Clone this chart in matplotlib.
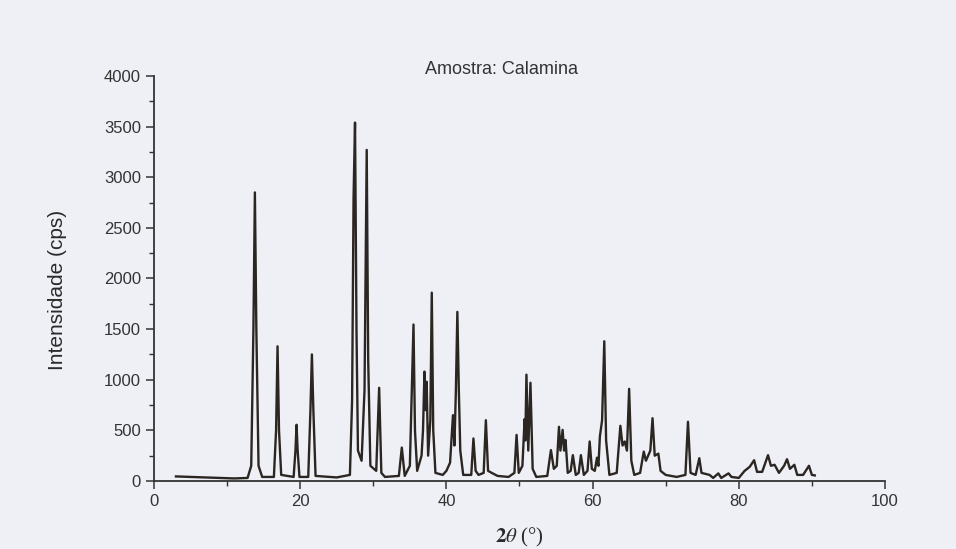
import matplotlib.pyplot as plt
import numpy as np

plt.rcParams['mathtext.fontset'] = 'stix'

# Difratograma - Amostra: Calamina
# pontos: 2theta (graus) e intensidade (cps)

theta = [
    3.0, 5.0, 7.0, 9.0, 11.0, 12.8,
    13.3, 13.6, 13.8, 14.0, 14.3, 14.8,
    16.4, 16.7, 16.9, 17.1, 17.4,
    19.1, 19.35, 19.5, 19.65, 19.9,
    21.1, 21.4, 21.6, 21.8, 22.1,
    25.0, 26.8, 27.1, 27.3, 27.5, 27.7, 27.9,
    28.4, 28.8, 29.1, 29.3, 29.6,
    30.4, 30.8, 31.1, 31.6,
    33.5, 33.9, 34.3,
    35.0, 35.3, 35.5, 35.7, 36.0,
    36.6, 36.8, 37.0, 37.15, 37.3, 37.5, 37.8, 38.0, 38.2, 38.5,
    39.5, 40.0, 40.5, 40.9, 41.1, 41.3, 41.5, 41.7, 41.9, 42.3,
    43.4, 43.7, 44.0, 44.4,
    45.1, 45.4, 45.7, 46.2,
    47.0, 48.5, 49.3, 49.6, 49.9,
    50.4, 50.7, 50.8, 50.95, 51.2, 51.5, 51.8, 52.3,
    53.8, 54.3, 54.7, 55.1, 55.4, 55.6, 55.9, 56.1, 56.3, 56.6,
    57.0, 57.3, 57.7, 58.1, 58.4, 58.8,
    59.3, 59.6, 59.9, 60.3, 60.6, 60.8, 61.0, 61.3, 61.6, 61.85, 62.3,
    63.3, 63.8, 64.1, 64.4, 64.7, 65.0, 65.3, 65.7,
    66.5, 67.0, 67.3, 67.6, 67.9, 68.2, 68.5, 69.0, 69.3,
    70.0, 71.5, 72.7, 73.05, 73.4,
    74.1, 74.6, 74.9,
    76.0, 76.5, 77.2, 77.6, 78.6, 79.0, 80.0,
    80.8, 81.5, 82.1, 82.5, 83.2, 84.0, 84.4, 84.9, 85.5,
    86.2, 86.6, 87.0, 87.6, 88.0, 88.8, 89.6, 90.0, 90.4,
]

intensidade = [
    45, 40, 35, 30, 25, 30,
    150, 1500, 2850, 1500, 150, 40,
    40, 500, 1330, 500, 60,
    40, 300, 555, 300, 40,
    40, 700, 1250, 700, 50,
    35, 60, 800, 2800, 3540, 1500, 300,
    200, 900, 3270, 1200, 150,
    100, 920, 80, 40,
    50, 330, 50,
    150, 1000, 1545, 500, 100,
    250, 500, 1080, 700, 980, 250, 600, 1860, 500, 80,
    60, 100, 180, 650, 350, 900, 1670, 900, 300, 60,
    60, 420, 100, 60,
    80, 600, 100, 80,
    50, 40, 80, 455, 80,
    150, 612, 400, 1050, 300, 970, 120, 40,
    50, 305, 120, 150, 535, 300, 505, 300, 405, 80,
    100, 255, 60, 80, 255, 60,
    100, 390, 120, 100, 230, 150, 440, 600, 1380, 400, 60,
    80, 545, 350, 390, 300, 910, 200, 60,
    80, 290, 200, 250, 300, 620, 250, 270, 100,
    60, 40, 60, 585, 80,
    60, 225, 80,
    60, 30, 75, 30, 75, 40, 30,
    100, 140, 205, 90, 90, 255, 150, 160, 80,
    150, 215, 120, 160, 60, 60, 150, 60, 55,
]

yticks = np.arange(0, 4001, 500)
xticks = np.arange(0, 101, 20)

fundo = '#eef0f6'

fig = plt.figure(figsize=(9.56, 5.49), dpi=100, facecolor=fundo)
ax = fig.add_axes([0.1611, 0.1239, 0.7646, 0.7377], facecolor=fundo)

ax.plot(theta, intensidade, color='#2b2622', linewidth=1.7)

ax.set_xlim(0, 100)
ax.set_ylim(0, 4000)

ax.spines['top'].set_visible(False)
ax.spines['right'].set_visible(False)
ax.spines['left'].set_color('#333333')
ax.spines['bottom'].set_color('#333333')
ax.spines['left'].set_linewidth(1.3)
ax.spines['bottom'].set_linewidth(1.3)

ax.set_xticks(xticks)
ax.set_yticks(yticks)
ax.set_xticks(np.arange(10, 100, 20), minor=True)
ax.set_yticks(np.arange(250, 4000, 500), minor=True)
ax.tick_params(which='major', direction='out', length=6, width=1.1, color='#333333',
               labelsize=12, labelcolor='#333333')
ax.tick_params(which='minor', direction='out', length=3.5, width=1.0, color='#333333')
for lbl in ax.get_xticklabels() + ax.get_yticklabels():
    lbl.set_family('Liberation Sans')

ax.text(0.476, 1.017, 'Amostra: Calamina', transform=ax.transAxes, ha='center', va='center',
        fontsize=13, family='Liberation Sans', color='#333333')

ax.set_ylabel('Intensidade (cps)', fontsize=15, family='Liberation Sans', color='#2a2a2a')
ax.yaxis.set_label_coords(-0.119, 0.472)
ax.set_xlabel(r'$\mathbf{2}\mathit{\theta}$ (°)', fontsize=15, family='Liberation Serif', color='#2a2a2a')
ax.xaxis.set_label_coords(0.5, -0.112)

plt.savefig('out.png', dpi=100, facecolor=fundo)
